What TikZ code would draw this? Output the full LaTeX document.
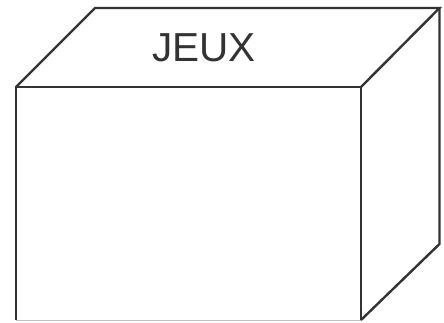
\documentclass[tikz,border=0pt]{standalone}
\usepackage{fontspec}
\setmainfont{Liberation Sans}
\definecolor{ink}{HTML}{333333}
\begin{document}
\begin{tikzpicture}[x=1pt,y=1pt,
  edge/.style={draw=ink,line width=2.4pt,line join=miter},
  lbl/.style={text=ink,font=\fontsize{40.5}{40}\selectfont,inner sep=0pt,anchor=base}]
\useasboundingbox (0,0) rectangle (444,322);
\clip (0,0) rectangle (444,322);
\coordinate (ftl) at (16,235);
\coordinate (ftr) at (361,235);
\coordinate (fbr) at (361,2);
\coordinate (fbl) at (16,2);
\coordinate (btl) at (95,314);
\coordinate (btr) at (439.5,314);
\coordinate (bbr) at (439.5,78);
\draw[edge] (fbl) -- (ftl) -- (ftr) -- (fbr);
\draw[edge] (ftl) -- (btl) -- (btr) -- (ftr);
\draw[edge] (btr) -- (bbr) -- (fbr);
\draw[draw=ink!30,line width=1pt] (fbl) -- (fbr);
\node[lbl] (title) at (204,260) {JEUX};
\end{tikzpicture}
\end{document}
